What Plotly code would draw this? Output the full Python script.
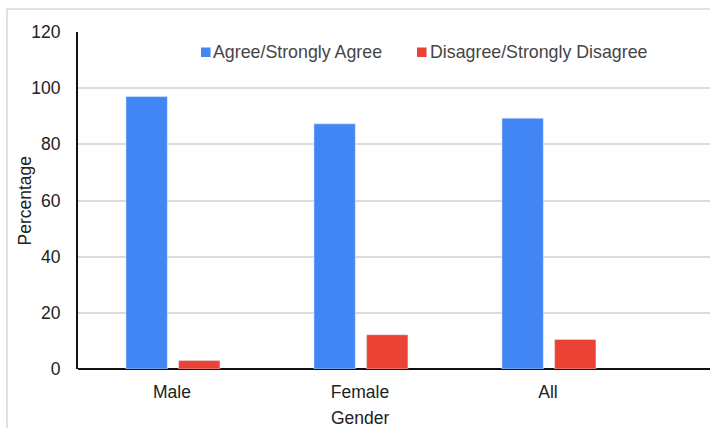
import plotly.graph_objects as go

categories = ["Male", "Female", "All"]
series_names = ["Agree/Strongly Agree", "Disagree/Strongly Disagree"]
agree = [97.0, 87.3, 89.3]
disagree = [3.0, 12.2, 10.5]
y_ticks = [0, 20, 40, 60, 80, 100, 120]
x_title = "Gender"
y_title = "Percentage"

BLUE = "#4285F4"
RED = "#EA4335"
FONT = "Arial, Liberation Sans, sans-serif"

W, H = 710, 428
L, R, T, B = 78, 0, 32, 59
PW, PH = W - L - R, H - T - B


def px_x(x):
    return (x - L) / PW


def px_y(y):
    return (H - B - y) / PH


fig = go.Figure()
fig.add_trace(go.Bar(x=categories, y=agree, name=series_names[0], marker_color=BLUE,
                     width=0.22, offset=-0.245, showlegend=False))
fig.add_trace(go.Bar(x=categories, y=disagree, name=series_names[1], marker_color=RED,
                     width=0.22, offset=0.035, showlegend=False))

shapes = [
    dict(type="rect", xref="paper", yref="paper", x0=px_x(7), x1=px_x(720), y0=px_y(9), y1=px_y(440),
         line=dict(color="#d6d6d6", width=1.5), fillcolor="rgba(0,0,0,0)", layer="below"),
]
annotations = []
legend_items = [(series_names[0], BLUE, 201, 213), (series_names[1], RED, 417, 430)]
for name, col, sx, tx in legend_items:
    shapes.append(dict(type="rect", xref="paper", yref="paper", x0=px_x(sx), x1=px_x(sx + 9.5),
                       y0=px_y(47.5), y1=px_y(57), line=dict(width=0), fillcolor=col))
    annotations.append(dict(text=name, xref="paper", yref="paper", x=px_x(tx - 2), y=px_y(52),
                            xanchor="left", yanchor="middle", showarrow=False,
                            font=dict(family=FONT, size=17.8, color="#454545")))

# axis titles
annotations.append(dict(text=x_title, xref="x", yref="paper", x=categories[1], y=px_y(418),
                        xanchor="center", yanchor="middle", showarrow=False,
                        font=dict(family=FONT, size=17.5, color="#222222")))
annotations.append(dict(text=y_title, xref="paper", yref="paper", x=px_x(24), y=0.5,
                        xanchor="center", yanchor="middle", textangle=-90, showarrow=False,
                        font=dict(family=FONT, size=17.5, color="#222222")))

fig.update_layout(
    width=W, height=H,
    margin=dict(l=L, r=R, t=T, b=B, pad=0),
    paper_bgcolor="white", plot_bgcolor="white",
    font=dict(family=FONT, size=17.5, color="#222222"),
    barmode="group",
    shapes=shapes,
    annotations=annotations,
    xaxis=dict(range=[-0.5, -0.5 + PW / 188.0], showgrid=False, showline=False, zeroline=False,
               ticks="", tickfont=dict(size=17.5, color="#222222"), ticklabelstandoff=10),
    yaxis=dict(range=[0, 120], tickvals=y_ticks, showgrid=True, gridcolor="#dcdcdc", gridwidth=1.5,
               showline=True, linecolor="#111111", linewidth=2, zeroline=True, zerolinecolor="#111111",
               zerolinewidth=2, ticks="", tickfont=dict(size=17.5, color="#222222"), ticklabelstandoff=12),
)

fig.write_html("out.html")
